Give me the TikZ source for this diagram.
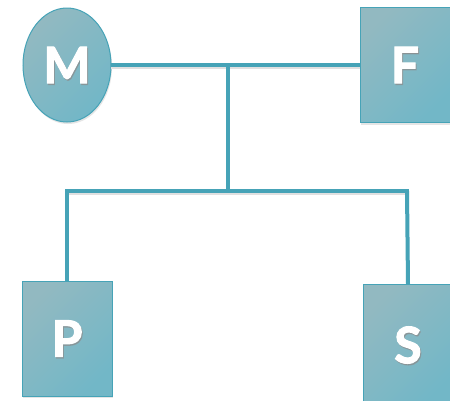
\documentclass[tikz,border=0pt]{standalone}
\usepackage{fontspec}
\setmainfont{Lato}
\newfontfamily\lblfont{Lato}[FakeBold=2.2]
\usetikzlibrary{shapes.geometric,shadows}
\definecolor{lineblue}{HTML}{46A3B7}
\definecolor{fillA}{HTML}{92B9C1}
\definecolor{fillB}{HTML}{72B7C7}
\tikzset{
  person/.style={draw=lineblue, line width=1pt, left color=fillA, right color=fillB, shading angle=45,
     drop shadow={shadow xshift=1pt, shadow yshift=-2pt, opacity=0.25, fill=black!40},
     inner sep=0pt, outer sep=0pt},
  male/.style={person, rectangle},
  female/.style={person, ellipse},
  link/.style={draw=lineblue, line width=4pt},
  linkshadow/.style={draw=black!12, line width=4pt},
  lbl/.style={font=\lblfont\fontsize{50}{50}\selectfont\bfseries, text=white, inner sep=0pt}
}
\begin{document}
\begin{tikzpicture}[x=1pt,y=-1pt]
\useasboundingbox (0,0) rectangle (450,400);
\fill[white] (0,0) rectangle (450,400);
% nodes
\node[female, minimum width=88pt, minimum height=114pt] (M) at (67,65) {};
\node[male, minimum width=90pt, minimum height=115pt] (F) at (405,65) {};
\node[male, minimum width=90pt, minimum height=115pt] (P) at (67,338.5) {};
\node[male, minimum width=90pt, minimum height=122pt] (S) at (408,345) {};
% coordinates
\coordinate (j1) at (228,65);
\coordinate (j2) at (228,191);
\coordinate (l) at (67,191);
\coordinate (r) at (407,191);
% connector shadows
\begin{scope}[transform canvas={yshift=-2pt}]
\draw[linkshadow] (M.east) -- (F.west);
\draw[linkshadow] (j1) -- (j2);
\draw[linkshadow] (l) -- (r);
\end{scope}
% connectors
\draw[link] (M.east) -- (F.west);
\draw[link] (j1) -- (j2);
\draw[link, line cap=rect] (l) -- (r);
\draw[link] (l) -- (P.north);
\draw[link] (r) -- (S.north);
% labels with shadows
\foreach \n/\t in {M/M,F/F,P/P,S/S}{
  \node[lbl, text=black!45, opacity=0.6] at ([xshift=1pt,yshift=-1.5pt]\n.center) {\t};
  \node[lbl] (t\n) at (\n.center) {\t};
}
\end{tikzpicture}
\end{document}
